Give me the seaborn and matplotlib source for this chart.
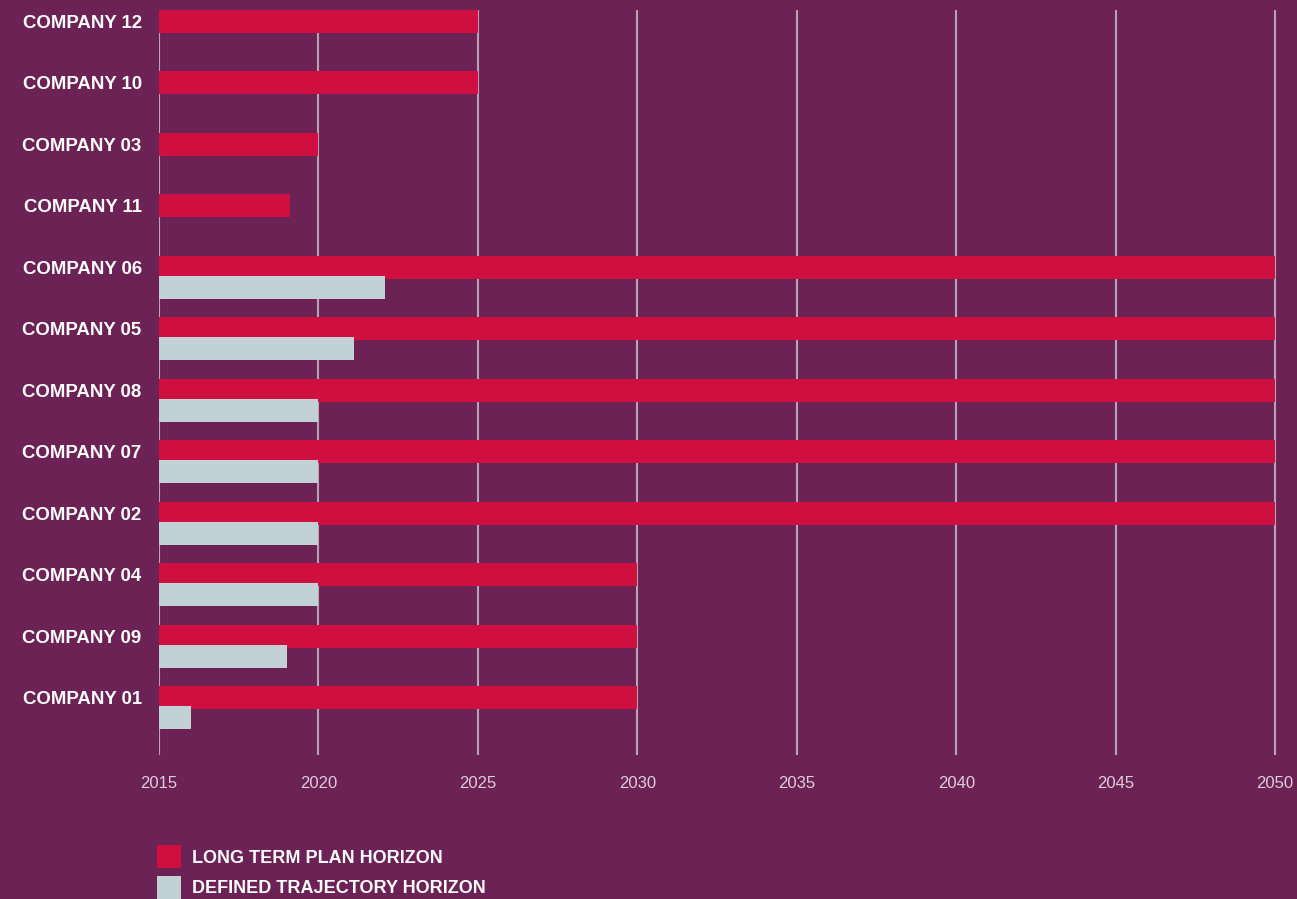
import pandas as pd
import matplotlib
matplotlib.use("Agg")
import matplotlib.pyplot as plt
from matplotlib.patches import Patch
import seaborn as sns

# --- data ---
companies = ['COMPANY 12', 'COMPANY 10', 'COMPANY 03', 'COMPANY 11', 'COMPANY 06', 'COMPANY 05',
             'COMPANY 08', 'COMPANY 07', 'COMPANY 02', 'COMPANY 04', 'COMPANY 09', 'COMPANY 01']
long_term = [2025, 2025, 2020, 2019.1, 2050, 2050, 2050, 2050, 2050, 2030, 2030, 2030]
defined = [None, None, None, None, 2022.1, 2021.1, 2020, 2020, 2020, 2020, 2019, 2016]
series_names = ['LONG TERM PLAN HORIZON', 'DEFINED TRAJECTORY HORIZON']
x_ticks = [2015, 2020, 2025, 2030, 2035, 2040, 2045, 2050]

bg = '#6c2255'
red = '#ce0f3f'
grey = '#c2d1d6'

df = pd.DataFrame({'Company': companies * 2,
                   'Year': long_term + defined,
                   'Series': [series_names[0]] * len(companies) + [series_names[1]] * len(companies)})

sns.set_style("white")
plt.rcParams['font.family'] = ['Liberation Sans', 'DejaVu Sans']

fig = plt.figure(figsize=(12.97, 8.99), dpi=100, facecolor=bg)
ax = fig.add_axes([159 / 1297, 1 - 755 / 899, (1277 - 159) / 1297, 745 / 899])
ax.set_facecolor(bg)

sns.barplot(data=df, y='Company', x='Year', hue='Series', order=companies,
            hue_order=series_names, palette=[red, grey], width=0.65,
            orient='h', ax=ax, legend=False, saturation=1, zorder=2)

# make bars a touch thicker so the pair touches, like the reference
for p in ax.patches:
    c = p.get_y() + p.get_height() / 2
    p.set_height(0.374)
    p.set_y(c - 0.187)
    p.set_linewidth(0)

ax.set_xlim(2015, 2050.06)
ax.set_ylim(11.77, -0.35)
ax.set_xticks(x_ticks)
# company names sit level with the red bar
ax.set_yticks([i - 0.1625 for i in range(len(companies))], companies)
ax.grid(axis='x', color='#b9a2b4', linewidth=1.5, zorder=0)
ax.grid(axis='y', visible=False)
ax.set_axisbelow(True)
for s in ax.spines.values():
    s.set_visible(False)

ax.set_xlabel('')
ax.set_ylabel('')
ax.tick_params(axis='x', length=0, pad=15, labelsize=12, labelcolor='#dccfd8')
ax.tick_params(axis='y', length=0, pad=12.5)
for lbl in ax.get_yticklabels():
    lbl.set_fontsize(13.4)
    lbl.set_fontweight('bold')
    lbl.set_color('white')

handles = [Patch(facecolor=red, edgecolor='none'), Patch(facecolor=grey, edgecolor='none')]
leg = fig.legend(handles, series_names, loc='upper left',
                 bbox_to_anchor=(157 / 1297, 1 - 845 / 899), frameon=False,
                 borderpad=0, borderaxespad=0, handlelength=1.32, handleheight=1.6,
                 handletextpad=0.6, labelspacing=0.42,
                 prop={'size': 13, 'weight': 'bold'})
for t in leg.get_texts():
    t.set_color('white')

fig.savefig('out.png', dpi=100, facecolor=bg)
